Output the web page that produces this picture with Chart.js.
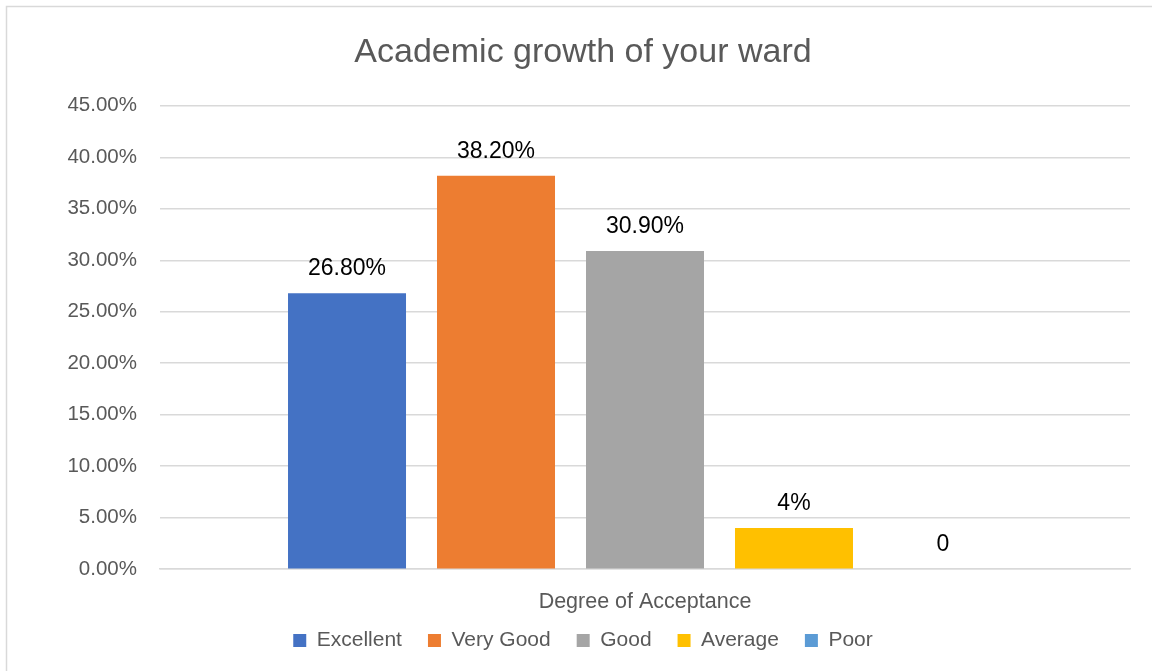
<!DOCTYPE html>
<html>
<head>
<meta charset="utf-8">
<script src="https://cdn.jsdelivr.net/npm/chart.js@4/dist/chart.umd.min.js"></script>
<style>
  html, body { margin: 0; padding: 0; background: #fff; }
  #wrap { width: 1152px; height: 671px; }
</style>
</head>
<body>
<div id="wrap"><canvas id="myChart" width="1152" height="671"></canvas></div>
<script>
// Data

const categories = ["Degree of Acceptance"];
const seriesNames = ["Excellent", "Very Good", "Good", "Average", "Poor"];
const seriesValues = [0.268, 0.382, 0.309, 0.04, 0];
const valueLabels = ["26.80%", "38.20%", "30.90%", "4%", "0"];
const seriesColors = ["#4472c4", "#ed7d31", "#a5a5a5", "#ffc000", "#5b9bd5"];

const FONT = "'Liberation Sans Narrow', 'Liberation Sans', sans-serif";
const GREY = "#595959";

// Setup

const data = {
    labels: categories,
    datasets: seriesNames.map((name, i) => ({
        label: name,
        data: [seriesValues[i]],
        valueLabel: valueLabels[i],
        backgroundColor: seriesColors[i],
        borderWidth: 0,
        categoryPercentage: 0.768,
        barPercentage: 0.792
    }))
};

// Plugins

const frame = {
    id: "frame",
    beforeDraw(chart) {
        const ctx = chart.ctx;
        ctx.save();
        ctx.fillStyle = "#fff";
        ctx.fillRect(0, 0, chart.width, chart.height);
        ctx.strokeStyle = "#d9d9d9";
        ctx.lineWidth = 1.5;
        ctx.strokeRect(6.5, 6.5, chart.width + 20, chart.height + 20);
        ctx.restore();
    }
};

const barLabels = {
    id: "barLabels",
    afterDatasetsDraw(chart) {
        const ctx = chart.ctx;
        ctx.save();
        ctx.font = "23px " + FONT;
        ctx.fillStyle = "#000";
        ctx.textAlign = "center";
        ctx.textBaseline = "alphabetic";
        chart.data.datasets.forEach((ds, i) => {
            const bar = chart.getDatasetMeta(i).data[0];
            ctx.fillText(ds.valueLabel, bar.x, bar.y - 18);
        });
        ctx.restore();
    }
};

// Config

const config = {
    type: "bar",
    data,
    options: {
        responsive: false,
        animation: false,
        layout: {
            padding: { left: 36, right: 22, top: 10, bottom: 10 }
        },
        plugins: {
            tooltip: { enabled: false },
            title: {
                display: true,
                text: "Academic growth of your ward",
                color: GREY,
                font: { family: FONT, size: 34, weight: "normal" },
                padding: { top: 22, bottom: 33 }
            },
            legend: {
                position: "bottom",
                labels: {
                    color: GREY,
                    font: { family: FONT, size: 21 },
                    boxWidth: 13,
                    boxHeight: 13,
                    padding: 26
                }
            }
        },
        scales: {
            x: {
                grid: { display: false },
                border: { color: "#d9d9d9", width: 1.5 },
                ticks: { display: false },
                title: {
                    display: true,
                    text: categories[0],
                    color: GREY,
                    font: { family: FONT, size: 21.5 },
                    padding: { top: 12, bottom: -11 }
                }
            },
            y: {
                min: 0,
                max: 0.45,
                afterFit: (scale) => { scale.width = 124; },
                ticks: {
                    stepSize: 0.05,
                    color: GREY,
                    font: { family: FONT, size: 20.5 },
                    padding: 23,
                    callback: (v) => (v * 100).toFixed(2) + "%"
                },
                grid: { color: "#d9d9d9", lineWidth: 1.5, drawTicks: false },
                border: { display: false }
            }
        }
    },
    plugins: [frame, barLabels]
};

// Render

const myChart = new Chart(document.getElementById("myChart"), config);
</script>
</body>
</html>
